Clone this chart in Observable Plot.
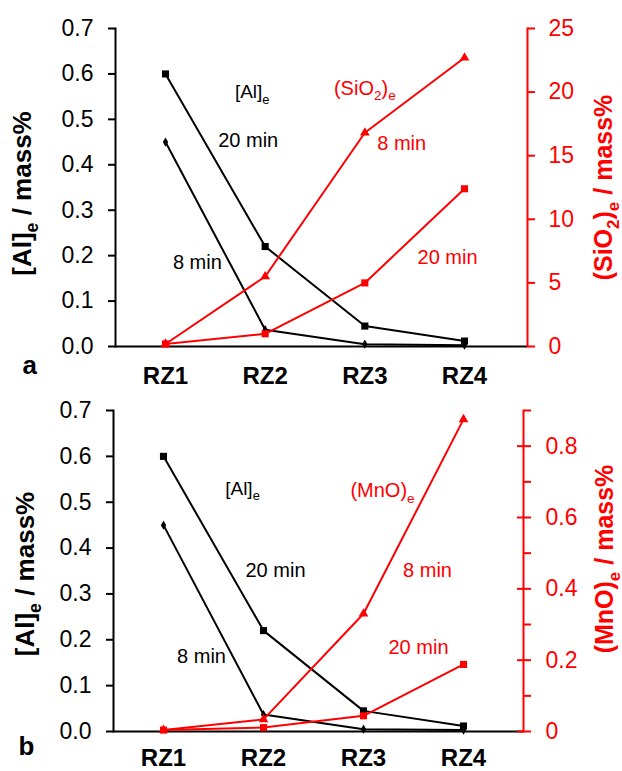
<!DOCTYPE html>
<html><head><meta charset="utf-8">
<script src="https://cdn.jsdelivr.net/npm/d3@7"></script>
<script src="https://cdn.jsdelivr.net/npm/@observablehq/plot@0.6"></script>
<style>body{margin:0;background:#fff} svg{display:block}</style>
</head><body><script>
// ---- data ----
const categories = ["RZ1", "RZ2", "RZ3", "RZ4"];
const alTicks = [0, 0.1, 0.2, 0.3, 0.4, 0.5, 0.6, 0.7];
const sio2Ticks = [0, 5, 10, 15, 20, 25];
const mnoMajorTicks = [0, 0.2, 0.4, 0.6, 0.8];
const mnoMinorTicks = [0.1, 0.3, 0.5, 0.7, 0.9];

const al20 = [0.6, 0.22, 0.045, 0.012];
const al8 = [0.45, 0.037, 0.005, 0.003];
const sio2_8 = [0.2, 5.5, 16.8, 22.7];
const sio2_20 = [0.2, 1.0, 5.0, 12.4];
const mno8 = [0.004, 0.034, 0.33, 0.875];
const mno20 = [0.004, 0.011, 0.044, 0.188];

const annotA = [
  {text: "[Al]_e", x: 1.87, y: 0.56, color: "black", size: 19},
  {text: "20 min", x: 1.83, y: 0.453, color: "black", size: 20},
  {text: "8 min", x: 1.32, y: 0.185, color: "black", size: 20},
  {text: "(SiO_2)_e", x: 3.0, y: 0.568, color: "red", size: 20},
  {text: "8 min", x: 3.37, y: 0.447, color: "red", size: 20},
  {text: "20 min", x: 3.83, y: 0.196, color: "red", size: 20}
];
const annotB = [
  {text: "[Al]_e", x: 1.79, y: 0.53, color: "black", size: 19},
  {text: "20 min", x: 2.12, y: 0.351, color: "black", size: 20},
  {text: "8 min", x: 1.38, y: 0.163, color: "black", size: 20},
  {text: "(MnO)_e", x: 3.19, y: 0.525, color: "red", size: 20},
  {text: "8 min", x: 3.64, y: 0.351, color: "red", size: 20},
  {text: "20 min", x: 3.55, y: 0.183, color: "red", size: 20}
];

const rows = (vals, k = 1) => vals.map((v, i) => ({i: i + 1, v: v * k}));
const FONT = "'Liberation Sans', Arial, sans-serif";

function panel(o) {
  const k = o.k;
  const marks = [
    Plot.ruleY([0], {stroke: "black", strokeWidth: 2}),
    Plot.frame({anchor: "left", stroke: "black", strokeWidth: 2}),
    Plot.frame({anchor: "right", stroke: "red", strokeWidth: 2}),
    Plot.axisY({anchor: "left", ticks: alTicks, tickFormat: d3.format(".1f"), tickSize: 7, tickPadding: 15, fontSize: 23, strokeWidth: 2, label: null}),
    ...o.rightAxes,
    Plot.axisX({anchor: "bottom", ticks: [1, 2, 3, 4], tickFormat: d => categories[d - 1], tickSize: 0, tickPadding: o.xPad, fontSize: 24, fontWeight: "bold", label: null}),
    Plot.line(rows(al20), {x: "i", y: "v", stroke: "black", strokeWidth: 2}),
    Plot.line(rows(al8), {x: "i", y: "v", stroke: "black", strokeWidth: 2}),
    Plot.dot(rows(al20), {x: "i", y: "v", symbol: "square", fill: "black", r: 4}),
    Plot.dot(rows(al8), {x: "i", y: "v", symbol: "diamond", fill: "black", r: 2.8}),
    Plot.line(rows(o.red8, k), {x: "i", y: "v", stroke: "red", strokeWidth: 2}),
    Plot.line(rows(o.red20, k), {x: "i", y: "v", stroke: "red", strokeWidth: 2}),
    Plot.dot(rows(o.red8, k), {x: "i", y: "v", symbol: "triangle", fill: "red", r: 3.6}),
    Plot.dot(rows(o.red20, k), {x: "i", y: "v", symbol: "square", fill: "red", r: 4}),
    Plot.text(o.annot, {x: "x", y: "y", text: "text", fill: "color", fontSize: "size"}),
    Plot.text([o.leftTitle], {text: d => d, frameAnchor: "left", textAnchor: "middle", rotate: -90, dx: o.leftTitleDx, dy: o.leftTitleDy || 0, fontSize: 26, fontWeight: "bold", fill: "black"}),
    Plot.text([o.rightTitle], {text: d => d, frameAnchor: "right", textAnchor: "middle", rotate: -90, dx: o.rightTitleDx, dy: o.rightTitleDy || 0, fontSize: 25, fontWeight: "bold", fill: "red"}),
    Plot.text([o.letter], {text: d => d, frameAnchor: "bottom-left", textAnchor: "start", dx: o.letterDx, dy: o.letterDy, fontSize: 26, fontWeight: "bold", fill: "black"})
  ];
  return Plot.plot({
    width: 622,
    height: o.height,
    marginTop: o.marginTop,
    marginBottom: o.marginBottom,
    marginLeft: o.marginLeft,
    marginRight: o.marginRight,
    x: {type: "linear", domain: [1, 4], insetLeft: o.insetLeft, insetRight: o.insetRight},
    y: {domain: [0, 0.7]},
    color: {type: "identity"},
    style: {fontFamily: FONT, background: "white", color: "black"},
    marks
  });
}

const kA = 0.7 / 25;
const kB = 0.7 / 0.9;

const pa = panel({
  height: 390, marginTop: 28, marginBottom: 44, marginLeft: 115, marginRight: 95,
  insetLeft: 50, insetRight: 63, xPad: 20, k: kA,
  red8: sio2_8, red20: sio2_20, annot: annotA,
  rightAxes: [
    Plot.axisY({anchor: "right", ticks: sio2Ticks.map(v => v * kA), tickFormat: d => String(Math.round(d / kA)), tickSize: 7, tickPadding: 14, fontSize: 23, strokeWidth: 2, color: "red", label: null})
  ],
  leftTitle: "[Al]_e / mass%", leftTitleDx: -93, leftTitleDy: 6,
  rightTitle: "(SiO_2)_e / mass%", rightTitleDx: 76,
  letter: "a", letterDx: -93, letterDy: 27
});

const pb = panel({
  height: 381, marginTop: 20, marginBottom: 40, marginLeft: 113, marginRight: 99,
  insetLeft: 50, insetRight: 60, xPad: 17, k: kB,
  red8: mno8, red20: mno20, annot: annotB,
  rightAxes: [
    Plot.axisY({anchor: "right", ticks: mnoMajorTicks.map(v => v * kB), tickFormat: d => { const v = Math.round(d / kB * 10) / 10; return v === 0 ? "0" : v.toFixed(1); }, tickSize: 7, tickPadding: 15, fontSize: 23, strokeWidth: 2, color: "red", label: null}),
    Plot.axisY({anchor: "right", ticks: mnoMajorTicks.map(v => v * kB), tickFormat: () => "", tickSize: 7, dx: -7, strokeWidth: 2, color: "red", label: null}),
    Plot.axisY({anchor: "right", ticks: mnoMinorTicks.map(v => v * kB), tickFormat: () => "", tickSize: 7, strokeWidth: 2, color: "red", label: null})
  ],
  leftTitle: "[Al]_e / mass%", leftTitleDx: -88, leftTitleDy: 3,
  rightTitle: "(MnO)_e / mass%", rightTitleDx: 81, rightTitleDy: -12,
  letter: "b", letterDx: -95, letterDy: 23
});

document.body.appendChild(pa);
document.body.appendChild(pb);

function subscripts(svg) {
  d3.select(svg).selectAll("text").each(function () {
    const s = this.textContent;
    if (!s.includes("_")) return;
    const fs = parseFloat(getComputedStyle(this).fontSize) || 16;
    const parts = s.split(/_(.)/);
    this.textContent = "";
    let cur = 0;
    parts.forEach((p, i) => {
      if (!p) return;
      const isSub = i % 2 === 1;
      const target = isSub ? fs * 0.28 : 0;
      const ts = document.createElementNS("http://www.w3.org/2000/svg", "tspan");
      ts.textContent = p;
      if (target !== cur) ts.setAttribute("dy", target - cur);
      if (isSub) ts.setAttribute("font-size", fs * 0.68);
      cur = target;
      this.appendChild(ts);
    });
  });
}
subscripts(pa);
subscripts(pb);
</script></body></html>
